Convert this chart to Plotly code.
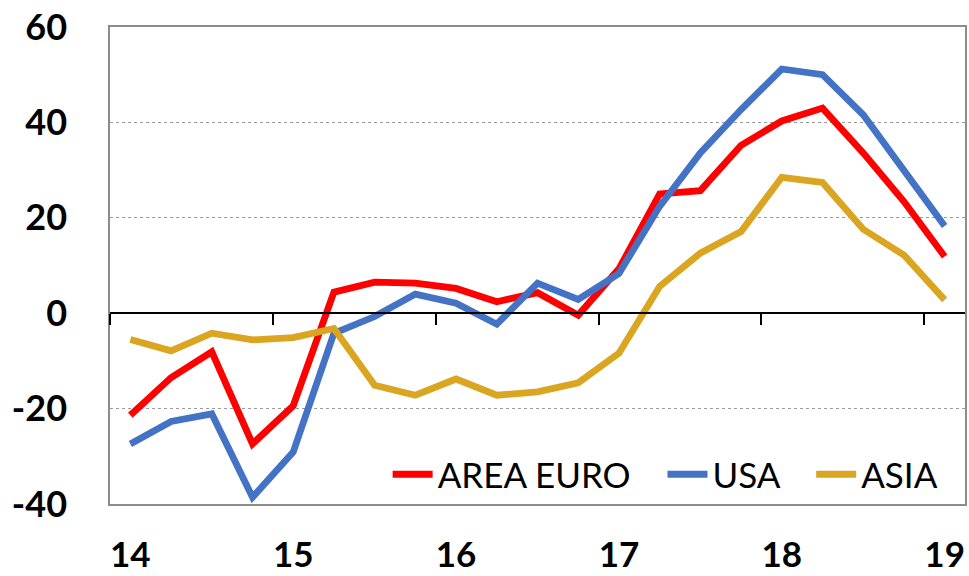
import plotly.graph_objects as go

quarters = list(range(21))  # 2014Q1 .. 2019Q1
tick_pos = [0, 4, 8, 12, 16, 20]
tick_labels = ["14", "15", "16", "17", "18", "19"]
year_bounds = [-0.5, 3.5, 7.5, 11.5, 15.5, 19.5]
y_ticks = [-40, -20, 0, 20, 40, 60]
y_tick_labels = ["-40", "-20", "0", "20", "40", "60"]

area_euro = [-21.4, -13.5, -8.1, -27.4, -19.4, 4.4, 6.5, 6.3, 5.2, 2.4, 4.3, -0.4,
             9.3, 25.0, 25.7, 35.2, 40.3, 43.0, 33.6, 23.4, 11.9]
usa = [-27.4, -22.7, -21.1, -38.6, -29.1, -4.2, -0.7, 4.0, 2.1, -2.3, 6.3, 2.9,
       8.3, 22.4, 33.6, 42.7, 51.2, 50.0, 41.6, 30.1, 18.3]
asia = [-5.5, -7.9, -4.2, -5.6, -5.1, -3.2, -15.1, -17.2, -13.8, -17.2, -16.5, -14.6,
        -8.4, 5.6, 12.6, 17.1, 28.5, 27.4, 17.6, 12.2, 2.8]

series = [("AREA EURO", area_euro, "#FF0000"),
          ("USA", usa, "#4472C4"),
          ("ASIA", asia, "#DAA520")]

NB = "\u00a0"
fig = go.Figure()
for k, (name, vals, col) in enumerate(series):
    label = name + (NB * 3 if k < len(series) - 1 else "")
    fig.add_trace(go.Scatter(x=quarters, y=vals, mode="lines", name=label,
                             line=dict(color=col, width=6.8)))

fig.update_layout(
    width=969, height=576,
    margin=dict(l=110, r=4, t=27, b=72),
    paper_bgcolor="white", plot_bgcolor="white",
    font=dict(family="Lato, 'Open Sans', sans-serif", color="black"),
    showlegend=True,
    legend=dict(orientation="h", x=0.975, xanchor="right", y=0.0, yanchor="bottom",
                bgcolor="rgba(0,0,0,0)", font=dict(size=35, family="Lato"),
                itemwidth=40, traceorder="normal"),
    xaxis=dict(range=[-0.5, 20.5], tickmode="array", tickvals=tick_pos, ticktext=tick_labels,
               showgrid=False, zeroline=False, showline=True, mirror=True,
               linecolor="#8C8C8C", linewidth=1.5, automargin=False,
               ticks="outside", ticklen=19, tickcolor="rgba(0,0,0,0)",
               tickfont=dict(size=35, family="Lato", weight="bold")),
    xaxis2=dict(range=[-0.5, 20.5], overlaying="x", anchor="free", position=0.4,
                tickmode="array", tickvals=year_bounds, showticklabels=False,
                showgrid=False, zeroline=False, showline=True, linecolor="black",
                linewidth=2, ticks="outside", ticklen=11, tickwidth=2, tickcolor="black",
                automargin=False),
    yaxis=dict(range=[-40, 60], tickmode="array", tickvals=y_ticks, ticktext=y_tick_labels,
               showgrid=True, gridcolor="#9A9A9A", griddash="dot", gridwidth=1,
               zeroline=False, showline=True, mirror=True,
               linecolor="#8C8C8C", linewidth=1.5, automargin=False,
               ticks="outside", ticklen=34, tickcolor="rgba(0,0,0,0)",
               tickfont=dict(size=36, family="Lato", weight="bold")),
)
# invisible helper trace so xaxis2 is drawn
fig.add_trace(go.Scatter(x=[0], y=[0], xaxis="x2", mode="markers",
                         marker=dict(opacity=0), showlegend=False, hoverinfo="skip"))

fig.write_html("out.html", config={"displayModeBar": False},
               post_script="document.body.style.margin='0';document.body.style.overflow='hidden';")
